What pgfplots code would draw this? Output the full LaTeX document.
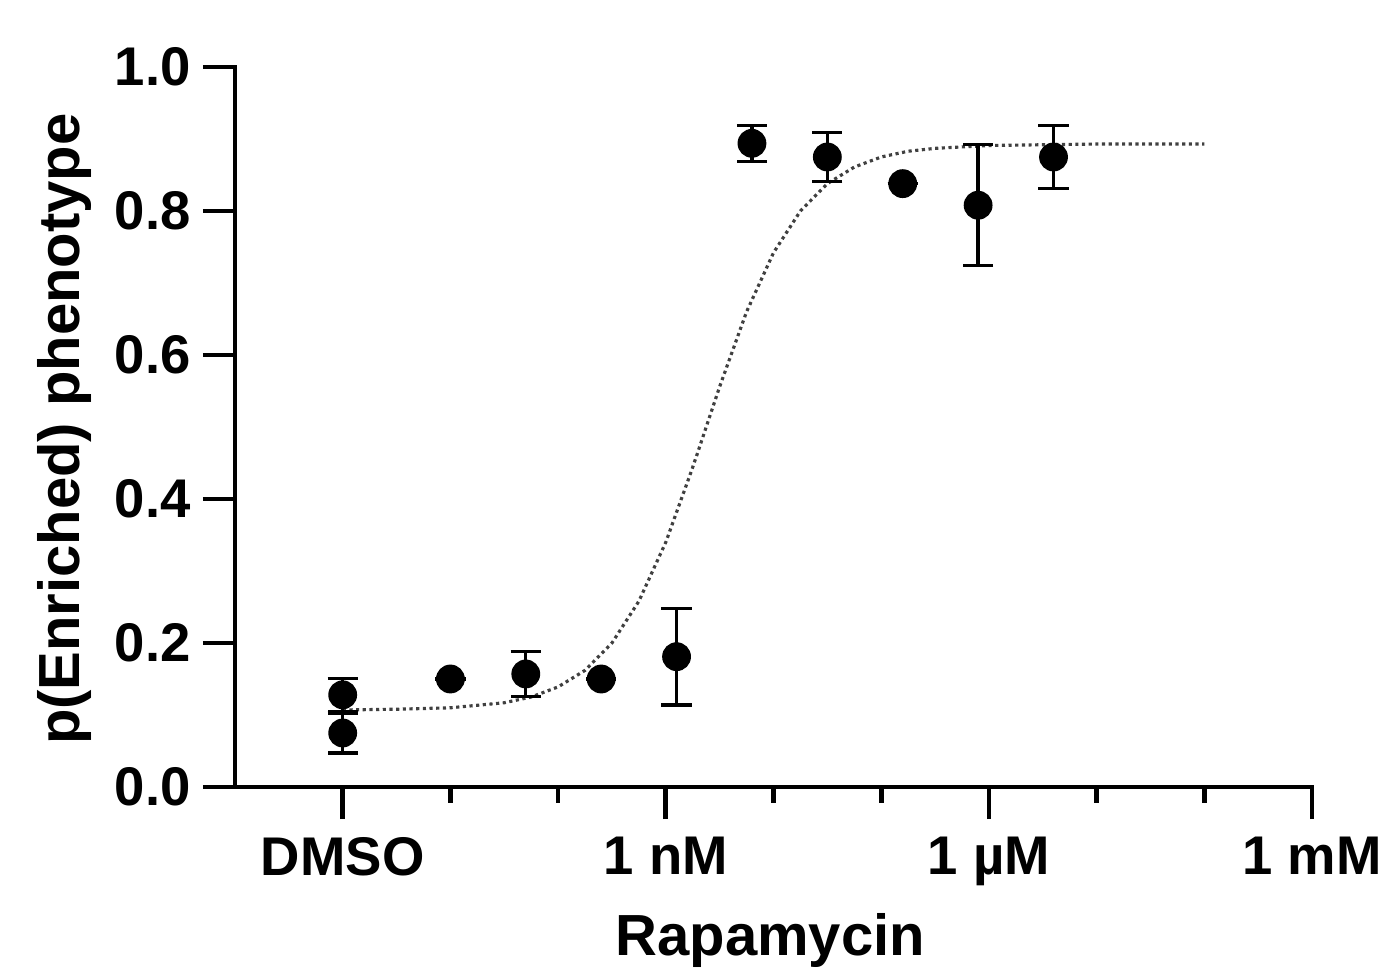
\documentclass[border=0pt]{standalone}
\usepackage{pgfplots}
\pgfplotsset{compat=1.18}
\usepackage{fontspec}
\setmainfont{Liberation Sans}

% 5-fold dilution series, x = log10(M); DMSO placed at -12
\pgfplotstableread{
x      y      e
-12    0.128  0.023
-12    0.075  0.028
-11.0  0.150  0
-10.3  0.157  0.031
-9.6   0.150  0
-8.9   0.181  0.067
-8.2   0.894  0.025
-7.5   0.875  0.034
-6.8   0.838  0
-6.1   0.808  0.084
-5.4   0.875  0.044
}\pts

% fitted curve
\pgfplotstableread{
x       y
-12     0.107
-11.5   0.108
-11     0.110
-10.5   0.117
-10.25  0.125
-10     0.139
-9.75   0.162
-9.5    0.200
-9.25   0.258
-9      0.340
-8.75   0.444
-8.5    0.556
-8.25   0.660
-8      0.742
-7.75   0.800
-7.5    0.838
-7.25   0.861
-7      0.875
-6.75   0.883
-6.5    0.887
-6      0.891
-5.5    0.892
-5      0.893
-4      0.893
}\fit

\begin{document}
\begin{tikzpicture}
\path[use as bounding box] (-2.35,-1.83) rectangle (11.44,7.87);
\begin{axis}[
  at={(0,0)}, anchor=south west,
  scale only axis, width=10.77cm, height=7.20cm,
  xmin=-13, xmax=-3, ymin=0, ymax=1,
  enlargelimits=false,
  axis lines*=left,
  axis line style={line width=1.35pt, line cap=rect},
  xtick pos=left, ytick pos=left,
  tick align=outside,
  major tick length=0.32cm, minor tick length=0.16cm,
  every tick/.style={black, line width=1.35pt},
  xtick={-12,-9,-6,-3},
  xticklabels={DMSO,1 nM,1 µM,1 mM},
  minor xtick={-11,-10,-8,-7,-5,-4},
  xticklabel style={yshift=-0.06cm},
  ytick={0,0.2,...,1.0},
  yticklabel style={/pgf/number format/.cd, fixed, fixed zerofill, precision=1, assume math mode=true},
  tick label style={font=\fontsize{15.5}{16}\selectfont\bfseries},
  label style={font=\fontsize{16.5}{17}\selectfont\bfseries},
  xlabel={Rapamycin},
  xlabel style={at={(axis description cs:0.497,0)}, anchor=base, yshift=-1.69cm},
  ylabel={p(Enriched) phenotype},
  ylabel style={at={(axis description cs:0,0.497)}, anchor=base, yshift=1.55cm},
  clip=false,
]
\addplot[black!75, densely dotted, line width=0.9pt, no marks] table[x=x, y=y] {\fit};
\addplot[black, only marks, mark=*, mark size=3.9pt,
  error bars/.cd, y dir=both, y explicit,
  error bar style={line width=0.95pt, black},
  error mark options={rotate=90, mark size=4.3pt, line width=0.95pt, black}]
  table[x=x, y=y, y error=e] {\pts};
\end{axis}
\end{tikzpicture}
\end{document}
